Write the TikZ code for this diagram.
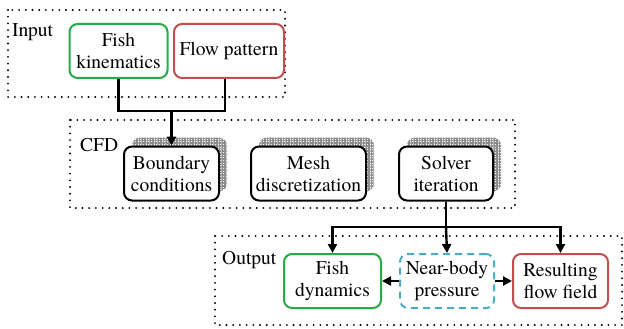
\documentclass[tikz,border=0pt]{standalone}
\usepackage{fontspec}
\setmainfont{texgyretermes}[Extension=.otf, UprightFont=*-regular,
  BoldFont=*-bold, ItalicFont=*-italic, BoldItalicFont=*-bolditalic]
\usetikzlibrary{arrows.meta,shadows,patterns.meta}

\definecolor{kingreen}{RGB}{40,170,72}
\definecolor{flowred}{RGB}{192,80,77}
\definecolor{presscyan}{RGB}{75,172,198}

\newcommand{\labelfont}{\rmfamily\fontsize{19.5}{22}\selectfont}

\tikzset{
  stagebox/.style={draw=black, line width=2.1pt,
    dash pattern=on 0pt off 6.7pt, line cap=round},
  blockbox/.style={draw, rounded corners=8pt, line width=2pt,
    minimum height=54pt, inner sep=0pt, align=center, fill=white,
    font=\labelfont},
  shadowed/.style={general shadow={shadow xshift=8pt, shadow yshift=9pt,
    pattern={Hatch[distance=1.6pt, line width=0.45pt]}, pattern color=black!45}},
  stagelabel/.style={font=\labelfont, inner sep=0pt},
  link/.style={line width=2.4pt},
  flow/.style={link, -{Triangle[length=9pt,width=9pt]}}
}

\begin{document}
\begin{tikzpicture}[x=1pt, y=-1pt]
  \useasboundingbox (0,0) rectangle (624,329);

  % stage frames
  \draw[stagebox] (8,10) rectangle (285,97);
  \draw[stagebox] (70,120) rectangle (515,208);
  \draw[stagebox] (215,236) rectangle (622,325);

  \node[stagelabel, anchor=west] (lin) at (12,32) {Input};
  \node[stagelabel, anchor=west] (lcfd) at (80,145) {CFD};
  \node[stagelabel, anchor=west] (lout) at (222,260) {Output};

  % input
  \node[blockbox, draw=kingreen, minimum width=98pt] (kin) at (118.5,51) {Fish\\kinematics};
  \node[blockbox, draw=flowred, minimum width=110pt] (pat) at (229,51) {Flow pattern};

  % CFD
  \node[blockbox, shadowed, minimum width=95pt] (bc) at (171.5,173.5) {Boundary\\conditions};
  \node[blockbox, shadowed, minimum width=115pt] (mesh) at (308.5,173.5) {Mesh\\discretization};
  \node[blockbox, shadowed, minimum width=94pt] (sol) at (446,173.5) {Solver\\iteration};

  % output
  \node[blockbox, draw=kingreen, minimum width=97pt] (dyn) at (332.5,281) {Fish\\dynamics};
  \node[blockbox, draw=presscyan, dashed, dash pattern=on 7pt off 5pt, minimum width=94pt] (prs) at (447,281) {Near-body\\pressure};
  \node[blockbox, draw=flowred, minimum width=95pt] (res) at (560.5,281) {Resulting\\flow field};

  % input to CFD
  \coordinate (jl) at (kin.south |- 0,111);
  \coordinate (jr) at (225,111);
  \coordinate (jm) at (bc.north |- 0,111);
  \draw[link] (kin.south) -- (jl) -- (jr) -- (jr |- pat.south);
  \draw[flow] (jm) -- (bc.north);

  % CFD to output
  \coordinate (sp) at (sol.south |- 0,227);
  \draw[link] (sol.south) -- (sp);
  \draw[flow] (sp) -- (prs.north);
  \draw[flow] (sp) -- (dyn.north |- sp) -- (dyn.north);
  \draw[flow] (sp) -- (res.north |- sp) -- (res.north);

  % pressure feeds both results
  \draw[flow] (prs.west) -- (dyn.east);
  \draw[flow] (prs.east) -- (res.west);
\end{tikzpicture}
\end{document}
